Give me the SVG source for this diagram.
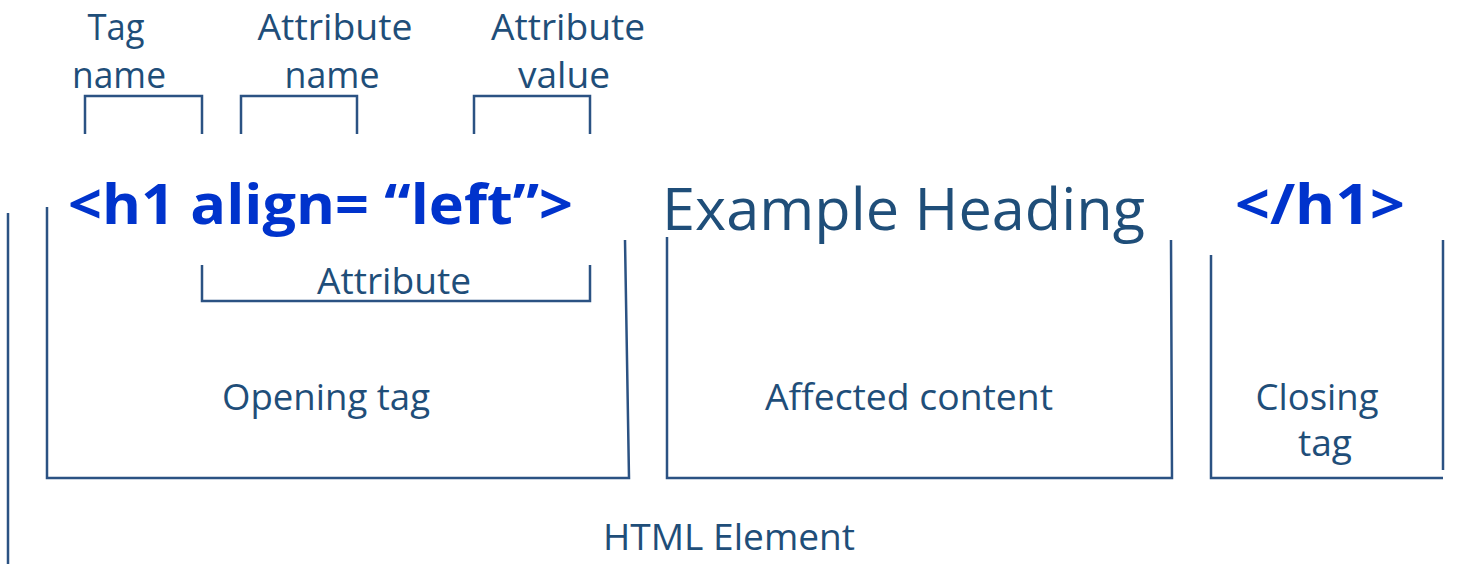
<svg xmlns="http://www.w3.org/2000/svg" width="1478" height="564" viewBox="0 0 1478 564">
<style>
.ln{fill:none;stroke:#2B5283;stroke-width:2.5}
.t{font-family:"Open Sans","Noto Sans",sans-serif;fill:#1F4E79;font-size:37px}
.big{font-family:"Open Sans","Noto Sans",sans-serif;fill:#1F4E79;font-size:59px}
.code{font-family:"Open Sans","Noto Sans",sans-serif;fill:#0033CC;font-size:56px;font-weight:bold}
</style>
<rect width="1478" height="564" fill="#ffffff"/>
<g id="connectors">
<path class="ln" d="M8,213 V564"/>
<path class="ln" d="M85,134 V96 H202 V134"/>
<path class="ln" d="M241,134 V96 H357 V134"/>
<path class="ln" d="M474,134 V96 H590 V134"/>
<path class="ln" d="M202,265 V301 H590 V265"/>
</g>
<g id="labels-top">
<text class="t" x="116" y="40" text-anchor="middle" textLength="57" lengthAdjust="spacingAndGlyphs">Tag</text>
<text class="t" x="119" y="88" text-anchor="middle" textLength="94" lengthAdjust="spacingAndGlyphs">name</text>
<text class="t" x="335" y="40" text-anchor="middle" textLength="155" lengthAdjust="spacingAndGlyphs">Attribute</text>
<text class="t" x="332" y="88" text-anchor="middle" textLength="95" lengthAdjust="spacingAndGlyphs">name</text>
<text class="t" x="568" y="40" text-anchor="middle" textLength="154" lengthAdjust="spacingAndGlyphs">Attribute</text>
<text class="t" x="564" y="88" text-anchor="middle" textLength="92" lengthAdjust="spacingAndGlyphs">value</text>
</g>
<g id="opening-tag">
<text class="code" x="68" y="224" textLength="505" lengthAdjust="spacingAndGlyphs">&lt;h1 align= “left”&gt;</text>
<text class="t" x="394" y="294" text-anchor="middle" textLength="154" lengthAdjust="spacingAndGlyphs">Attribute</text>
<path class="ln" d="M47,207 V478 H629 L625,240"/>
<text class="t" x="326" y="410" text-anchor="middle" textLength="208" lengthAdjust="spacingAndGlyphs">Opening tag</text>
</g>
<g id="affected-content">
<text class="big" x="662" y="230" textLength="483" lengthAdjust="spacingAndGlyphs">Example Heading</text>
<path class="ln" d="M667,237 V478 H1172 L1171,240"/>
<text class="t" x="909" y="410" text-anchor="middle" textLength="288" lengthAdjust="spacingAndGlyphs">Affected content</text>
</g>
<g id="closing-tag">
<text class="code" x="1235" y="224" textLength="170" lengthAdjust="spacingAndGlyphs">&lt;/h1&gt;</text>
<path class="ln" d="M1211,255 V478 H1443"/>
<path class="ln" d="M1443,240 V470"/>
<text class="t" x="1317" y="410" text-anchor="middle" textLength="123" lengthAdjust="spacingAndGlyphs">Closing</text>
<text class="t" x="1325" y="456" text-anchor="middle" textLength="54" lengthAdjust="spacingAndGlyphs">tag</text>
</g>
<g id="html-element">
<text class="t" x="729" y="550" text-anchor="middle" textLength="252" lengthAdjust="spacingAndGlyphs">HTML Element</text>
</g>
</svg>
